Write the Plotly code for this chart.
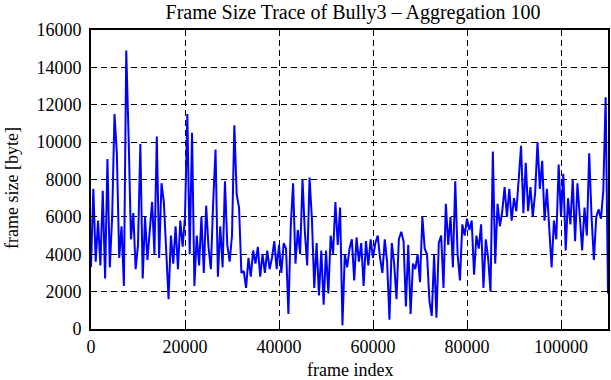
import numpy as np
import plotly.graph_objects as go

frame_step = 500
size_kbyte = [
    3.3, 7.5, 3.6, 5.8, 3.4, 7.4, 2.7, 9.1, 3.3, 6.0,
    11.5, 9.4, 3.8, 5.5, 2.3, 14.9, 10.3, 4.8, 6.2, 3.2,
    4.5, 9.9, 2.7, 6.0, 3.7, 5.4, 6.8, 4.0, 10.3, 3.8,
    7.8, 6.8, 4.2, 1.6, 5.0, 3.5, 5.5, 3.2, 5.8, 4.4,
    6.0, 11.5, 4.0, 10.5, 2.3, 5.0, 3.4, 6.0, 3.0, 6.6,
    4.4, 3.2, 6.8, 9.6, 2.8, 5.5, 3.3, 7.9, 4.5, 3.6,
    5.0, 10.9, 7.2, 6.5, 3.0, 3.1, 2.2, 3.8, 2.8, 4.2,
    3.5, 4.4, 2.8, 4.0, 3.0, 4.2, 3.2, 3.8, 4.7, 3.2,
    4.5, 3.0, 4.6, 4.3, 0.8, 5.5, 7.8, 3.5, 5.3, 4.0,
    8.0, 5.2, 3.4, 8.1, 5.9, 2.2, 4.6, 1.8, 4.2, 1.3,
    4.2, 1.9, 5.0, 4.0, 6.8, 4.5, 6.5, 0.2, 4.0, 3.3,
    4.3, 4.8, 2.6, 4.9, 3.6, 4.6, 2.3, 4.7, 3.4, 4.8,
    3.8, 4.6, 5.0, 3.8, 3.0, 4.8, 3.6, 0.5, 4.6, 3.5,
    1.6, 4.8, 5.2, 4.7, 1.2, 4.5, 0.8, 3.5, 3.2, 4.0,
    2.5, 6.0, 4.3, 4.0, 1.5, 0.7, 4.0, 0.6, 4.6, 5.0,
    2.2, 6.7, 4.5, 6.0, 3.3, 7.9, 4.0, 2.6, 5.6, 5.0,
    5.9, 5.3, 5.8, 2.9, 5.0, 4.3, 5.6, 2.2, 4.8, 3.8,
    2.0, 9.5, 3.5, 6.7, 5.5, 6.3, 7.6, 6.0, 7.5, 5.8,
    7.0, 6.3, 8.0, 9.8, 6.2, 8.9, 6.3, 7.6, 6.0, 7.3,
    10.0, 7.5, 9.0, 5.8, 7.5, 5.5, 3.3, 5.8, 4.8, 8.8,
    6.0, 8.3, 4.2, 7.0, 5.6, 8.0, 4.7, 7.8, 5.8, 4.2,
    6.5, 5.0, 9.4, 6.0, 3.7, 6.0, 6.4, 5.9, 7.4, 12.4,
    1.9,
]
x_ticks = [0, 20000, 40000, 60000, 80000, 100000]
y_ticks = [0, 2000, 4000, 6000, 8000, 10000, 12000, 14000, 16000]

frames = np.arange(len(size_kbyte)) * frame_step
sizes = np.array(size_kbyte) * 1000

fig = go.Figure()
fig.add_trace(go.Scatter(x=frames, y=sizes, mode="lines",
                         line=dict(color="#0000ff", width=2),
                         showlegend=False, hoverinfo="skip"))

font = "Liberation Serif, serif"


def axis_style():
    return dict(
        showline=True, linecolor="black", linewidth=2, mirror="allticks",
        ticks="inside", ticklen=5, tickwidth=1, tickcolor="black",
        showgrid=True, gridcolor="black", gridwidth=1, griddash="6px,4px",
        zeroline=False, automargin=False,
        tickfont=dict(family=font, size=18, color="black"),
    )


fig.update_layout(
    width=611, height=380,
    margin=dict(l=91, r=3, t=30, b=51),
    paper_bgcolor="white", plot_bgcolor="white",
    font=dict(family=font, color="black", size=18),
    title=dict(text="Frame Size Trace of Bully3 \u2013 Aggregation 100",
               x=353 / 611, xanchor="center", y=1 - 12 / 380, yanchor="middle",
               yref="container", font=dict(family=font, size=20)),
    xaxis=dict(range=[0, 110000], tickvals=x_ticks,
               ticktext=[str(v) for v in x_ticks], **axis_style()),
    yaxis=dict(range=[0, 16000], tickvals=y_ticks,
               ticktext=[str(v) for v in y_ticks], ticklabelstandoff=4,
               **axis_style()),
    annotations=[
        dict(text="frame index", xref="paper", yref="paper",
             x=0.5, y=(329 - 370) / 299, xanchor="center", yanchor="middle",
             showarrow=False, font=dict(family=font, size=18, color="black")),
        dict(text="frame size [byte]", xref="paper", yref="paper",
             x=(12 - 91) / 517, y=(329 - 188) / 299, xanchor="center",
             yanchor="middle", textangle=-90, showarrow=False,
             font=dict(family=font, size=18, color="black")),
    ],
)
fig.write_html("out.html", config={"displayModeBar": False},
               post_script="document.body.style.margin='0';"
                           "document.body.style.overflow='hidden';")
